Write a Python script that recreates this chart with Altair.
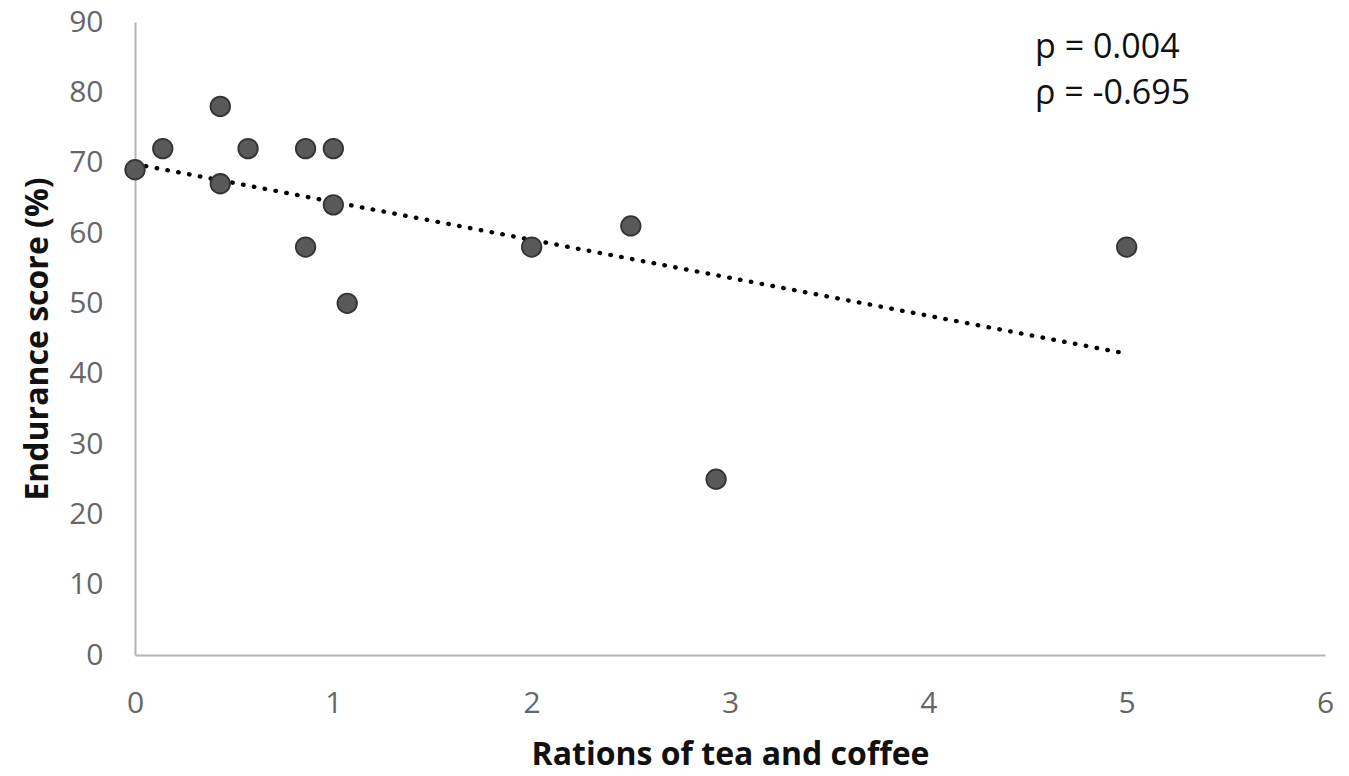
import altair as alt
import pandas as pd

# data
rations = [0, 0.14, 0.43, 0.43, 0.57, 0.86, 0.86, 1.0, 1.0, 1.07, 2.0, 2.5, 2.93, 5.0]
endurance = [69, 72, 78, 67, 72, 72, 58, 72, 64, 50, 58, 61, 25, 58]
x_ticks = [0, 1, 2, 3, 4, 5, 6]
y_ticks = [0, 10, 20, 30, 40, 50, 60, 70, 80, 90]
annotations = ["p = 0.004", "\u03c1 = -0.695"]

df = pd.DataFrame({"x": rations, "y": endurance})

FONT = "Open Sans"

x_enc = alt.X("x:Q", scale=alt.Scale(domain=[0, 6], nice=False),
              axis=alt.Axis(values=x_ticks, title="Rations of tea and coffee", format="d"))
y_enc = alt.Y("y:Q", scale=alt.Scale(domain=[0, 90], nice=False),
              axis=alt.Axis(values=y_ticks, title="Endurance score (%)", format="d"))

base = alt.Chart(df)

trend = base.transform_regression("x", "y", method="linear").mark_line(
    color="black", strokeWidth=4.4, strokeCap="round", strokeDash=[0.5, 10.5]
).encode(x=x_enc, y=y_enc)

points = base.mark_circle(
    size=380, color="#595959", opacity=1, stroke="#333333", strokeWidth=1.8
).encode(x=x_enc, y=y_enc)

text_layers = []
for label, ypix in zip(annotations, [26, 72]):
    text_layers.append(
        alt.Chart(pd.DataFrame({"label": [label]})).mark_text(
            align="left", baseline="middle", font=FONT, fontSize=34, color="#111111"
        ).encode(x=alt.value(900), y=alt.value(ypix), text="label:N")
    )

chart = alt.layer(trend, points, *text_layers).properties(
    width=1190, height=633,
    autosize=alt.AutoSizeParams(type="none"),
    padding={"left": 127, "top": 14, "right": 10, "bottom": 113},
).configure_view(stroke=None).configure_axis(
    grid=False, ticks=False, domainColor="#b3b3b3", domainWidth=2, labelFlush=False,
    labelFont=FONT, labelFontSize=30, labelColor="#666666",
    titleFont=FONT, titleFontSize=32, titleFontWeight="bold", titleColor="#111111",
).configure_axisX(
    labelPadding=33, titlePadding=21,
).configure_axisY(
    labelPadding=32, titlePadding=14,
)

chart.save("out.html", embed_options={"renderer": "svg", "actions": False})
